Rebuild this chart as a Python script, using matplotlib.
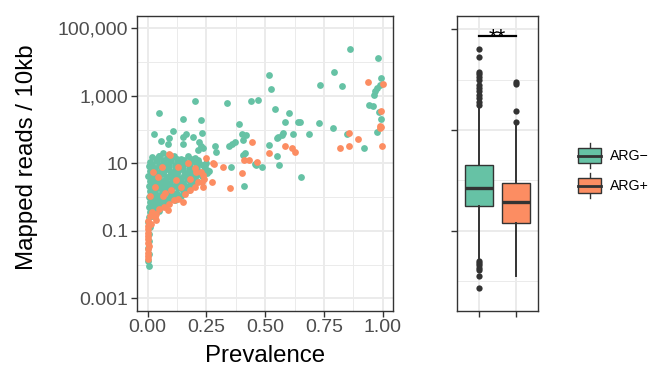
import numpy as np
import matplotlib.pyplot as plt
from matplotlib.patches import Rectangle

plt.rcParams['font.family'] = ['Liberation Sans', 'DejaVu Sans']

GREEN = "#66C2A5"
ORANGE = "#FC8D62"
DARK = "#333333"

# scatter: ARG- genes (prevalence, mapped reads / 10kb)
neg_prev = [0.861, 0.981, 0.993, 0.517, 0.794, 0.525, 0.733, 0.826, 0.988, 0.974,
            0.967, 0.963, 0.943, 0.960, 0.984, 0.991, 0.974, 0.847, 0.922, 0.790,
            0.730, 0.686, 0.648, 0.336, 0.440, 0.468, 0.540, 0.601, 0.584, 0.640,
            0.389, 0.577, 0.570, 0.556, 0.549, 0.618, 0.403, 0.418, 0.407, 0.371,
            0.357, 0.347, 0.517, 0.551, 0.414, 0.407, 0.461, 0.485, 0.557, 0.353,
            0.654, 0.410, 0.288, 0.291, 0.457, 0.230, 0.234, 0.248, 0.244, 0.254,
            0.251, 0.203, 0.049, 0.149, 0.227, 0.106, 0.028, 0.163, 0.149, 0.191,
            0.057, 0.092, 0.085, 0.149, 0.220, 0.227, 0.213, 0.049, 0.064]
neg_reads = [25000, 13500, 3300, 4200, 5000, 1600, 2100, 1900, 2100, 1700,
             1400, 1050, 540, 500, 340, 200, 83, 76, 29, 115,
             155, 72, 166, 630, 680, 740, 400, 320, 170, 162,
             145, 81, 69, 59, 55, 76, 74, 68, 49, 44,
             37, 32, 35, 17, 20, 18, 8.9, 7.9, 8.9, 7.9,
             4.0, 2.2, 33, 22, 9.5, 78, 28, 10, 8.9, 6.3,
             5.0, 680, 320, 200, 190, 93, 74, 74, 62, 62,
             47, 58, 37, 37, 44, 33, 25, 17, 20]

# dense cluster of ARG- genes at low prevalence
neg_dense_prev = [0.02, 0.05, 0.08, 0.11, 0.14, 0.17, 0.20,
                  0.035, 0.065, 0.095, 0.125, 0.155, 0.185, 0.215,
                  0.01, 0.04, 0.07, 0.10, 0.13, 0.16, 0.19, 0.22,
                  0.02, 0.05, 0.085, 0.115, 0.145, 0.175, 0.205, 0.235,
                  0.005, 0.03, 0.06, 0.09, 0.12, 0.15, 0.18, 0.21, 0.24,
                  0.02, 0.055, 0.085, 0.115, 0.145, 0.175, 0.205, 0.245,
                  0.01, 0.04, 0.07, 0.10, 0.13, 0.16, 0.19, 0.22, 0.26,
                  0.015, 0.04, 0.065, 0.095, 0.125, 0.155, 0.185, 0.215,
                  0.003, 0.025, 0.05, 0.08, 0.11, 0.14, 0.17, 0.20, 0.23,
                  0.02, 0.045, 0.075, 0.105, 0.135, 0.165, 0.195,
                  0.01, 0.035, 0.06, 0.09, 0.12, 0.15, 0.18, 0.21,
                  0.02, 0.045, 0.07, 0.095, 0.125, 0.155, 0.185,
                  0.005, 0.03, 0.055, 0.08, 0.11, 0.14, 0.17, 0.195,
                  0.02, 0.045, 0.07, 0.10, 0.13, 0.16,
                  0.01, 0.03, 0.06, 0.09, 0.12, 0.15, 0.175,
                  0.015, 0.04, 0.065, 0.095, 0.125,
                  0.005, 0.025, 0.05, 0.08, 0.11, 0.14,
                  0.02, 0.04, 0.07, 0.10,
                  0.01, 0.03, 0.055, 0.085, 0.115,
                  0.015, 0.04, 0.065,
                  0.005, 0.025, 0.05, 0.075,
                  0.02, 0.04,
                  0.01, 0.03, 0.05,
                  0.005, 0.02,
                  0.003, 0.008, 0.004, 0.006, 0.003, 0.005, 0.003, 0.004]
neg_dense_reads = [15, 17, 14, 16, 13, 16, 14,
                   13, 12.5, 13.5, 13, 12.8, 13.2, 12.6,
                   11, 12, 10, 12, 11, 10, 12, 10.5,
                   9.5, 9.0, 9.6, 9.2, 9.4, 9.1, 9.6, 9.0,
                   8.5, 7.5, 8.2, 7.8, 8.4, 7.4, 8.0, 7.6, 8.3,
                   6.8, 6.4, 6.7, 6.5, 6.9, 6.3, 6.6, 6.8,
                   5.8, 5.3, 6.0, 5.5, 5.9, 5.2, 5.7, 5.4, 5.9,
                   4.8, 4.6, 4.9, 4.5, 4.8, 4.6, 4.7, 4.9,
                   4.1, 3.8, 4.3, 3.9, 4.2, 3.7, 4.1, 3.8, 4.2,
                   3.4, 3.2, 3.3, 3.5, 3.2, 3.4, 3.3,
                   2.9, 2.7, 3.0, 2.6, 2.9, 2.7, 3.0, 2.9,
                   2.4, 2.5, 2.3, 2.4, 2.5, 2.3, 2.5,
                   2.1, 1.9, 2.2, 1.9, 2.1, 2.0, 2.2, 2.3,
                   1.7, 1.8, 1.65, 1.75, 1.8, 1.7,
                   1.5, 1.3, 1.4, 1.5, 1.3, 1.5, 1.6,
                   1.2, 1.15, 1.25, 1.2, 1.25,
                   1.0, 0.95, 1.05, 0.9, 1.0, 1.1,
                   0.85, 0.8, 0.85, 0.9,
                   0.72, 0.68, 0.75, 0.7, 0.8,
                   0.6, 0.62, 0.65,
                   0.5, 0.48, 0.52, 0.55,
                   0.42, 0.44,
                   0.36, 0.34, 0.38,
                   0.25, 0.27,
                   0.18, 0.13, 0.08, 0.05, 0.032, 0.02, 0.013, 0.009]

# scatter: ARG+ genes
pos_prev = [0.936, 1.0, 0.991, 0.99, 0.993, 0.988, 0.855, 0.896, 0.855, 0.818,
            0.997, 0.444, 0.584, 0.613, 0.625, 0.517, 0.41, 0.432, 0.464, 0.319,
            0.403, 0.35, 0.248, 0.282, 0.275, 0.234, 0.23, 0.237, 0.092, 0.279]
pos_reads = [2600, 2200, 350, 130, 120, 110, 81, 54, 33, 28,
             33, 42, 32, 28, 22, 20, 12.6, 12.6, 11, 7.9,
             5.0, 1.9, 14, 9.5, 2.8, 4.5, 2.8, 2.0, 19, 10]

pos_dense_prev = [0.01, 0.02, 0.035, 0.05, 0.07, 0.09, 0.088, 0.11, 0.13, 0.15,
                  0.16, 0.18, 0.20, 0.215, 0.24, 0.225, 0.205,
                  0.074, 0.065, 0.01, 0.03, 0.045, 0.024, 0.12, 0.18, 0.095,
                  0.13, 0.17, 0.20, 0.06, 0.14, 0.10,
                  0.0, 0.002, 0.0, 0.003, 0.0, 0.002, 0.0, 0.004, 0.0, 0.002,
                  0.0, 0.003, 0.03, 0.035, 0.015]
pos_dense_reads = [0.28, 0.35, 0.32, 0.45, 0.5, 0.63, 0.42, 0.8, 0.9, 0.72,
                   1.25, 1.6, 2.0, 2.8, 3.5, 5.6, 5.6,
                   1.3, 1.1, 1.07, 2.0, 4.0, 5.6, 3.2, 3.5, 17.8,
                   7.9, 10, 7.1, 7.9, 2.0, 1.6,
                   0.2, 0.14, 0.11, 0.089, 0.071, 0.056, 0.045, 0.035, 0.028, 0.022,
                   0.018, 0.015, 0.25, 0.21, 0.16]

# boxplot summary (right panel)
groups = ["ARG\u2212", "ARG+"]
box_q1 = [0.055, 0.017]
box_med = [0.19, 0.074]
box_q3 = [0.89, 0.26]
box_lo = [0.0015, 0.00046]
box_hi = [45, 13]
neg_fliers = [2600, 1450, 550, 470, 390, 310, 220, 175, 150, 110, 87, 69, 55,
              0.0013, 0.0011, 0.00093, 0.00079, 0.00066, 0.00044, 0.0002]
pos_fliers = [270, 230, 37, 17]
signif_y = 6500

fig = plt.figure(figsize=(6.51, 3.69), dpi=100)
W, H = 651, 369
ax1 = fig.add_axes([136.7 / W, 1 - 311 / H, 256.6 / W, 295 / H])
ax2 = fig.add_axes([456.7 / W, 1 - 311 / H, 81.6 / W, 295 / H])


def style(ax):
    ax.set_axisbelow(True)
    for s in ax.spines.values():
        s.set_color(DARK)
        s.set_linewidth(1.0)
    ax.tick_params(which='major', length=4, width=1, color=DARK,
                   labelcolor="#4D4D4D", labelsize=14, pad=2)
    ax.tick_params(which='minor', length=0)
    ax.grid(which='major', color="#EBEBEB", linewidth=1.4)
    ax.grid(which='minor', color="#EBEBEB", linewidth=0.7)


# left: scatter
ax1.set_yscale('log')
ax1.scatter(neg_prev, neg_reads, s=24, color=GREEN, linewidths=0, zorder=2)
ax1.scatter(neg_dense_prev, neg_dense_reads, s=24, color=GREEN, linewidths=0, zorder=2)
ax1.scatter(pos_dense_prev, pos_dense_reads, s=24, color=ORANGE, linewidths=0, zorder=3)
ax1.scatter(pos_prev, pos_reads, s=24, color=ORANGE, linewidths=0, zorder=3)
ax1.set_xlim(-0.047, 1.045)
ax1.set_ylim(10 ** -3.376, 10 ** 5.365)
ax1.set_xticks([0, 0.25, 0.5, 0.75, 1.0])
ax1.set_xticklabels(["0.00", "0.25", "0.50", "0.75", "1.00"])
ax1.set_xticks([0.125, 0.375, 0.625, 0.875], minor=True)
ax1.set_yticks([1e-3, 1e-1, 1e1, 1e3, 1e5])
ax1.set_yticklabels(["0.001", "0.1", "10", "1,000", "100,000"])
ax1.set_yticks([1e-2, 1e0, 1e2, 1e4], minor=True)
ax1.yaxis.set_minor_formatter(plt.NullFormatter())
style(ax1)

# right: boxplot
stats = []
fliers = [neg_fliers, pos_fliers]
for i in range(2):
    stats.append(dict(med=box_med[i], q1=box_q1[i], q3=box_q3[i],
                      whislo=box_lo[i], whishi=box_hi[i], fliers=fliers[i]))
ax2.set_yscale('log')
bp = ax2.bxp(stats, positions=[1, 2], widths=0.75, patch_artist=True, showcaps=False,
             boxprops=dict(edgecolor=DARK, linewidth=1.0),
             medianprops=dict(color=DARK, linewidth=2.4, solid_capstyle='butt'),
             whiskerprops=dict(color=DARK, linewidth=1.4),
             flierprops=dict(marker='o', markersize=4.5, markerfacecolor=DARK,
                             markeredgecolor='none'))
for patch, c in zip(bp['boxes'], [GREEN, ORANGE]):
    patch.set_facecolor(c)
ax2.plot([1, 2], [signif_y, signif_y], color='black', linewidth=1.6)
ax2.text(1.5, 3900, "**", ha='center', va='baseline', fontsize=16)
ax2.set_xlim(0.4, 2.6)
ax2.set_ylim(10 ** -4.39, 10 ** 4.396)
ax2.set_xticks([1, 2])
ax2.set_xticklabels([])
ax2.set_yticks([1e-2, 1e1, 1e4])
ax2.set_yticklabels([])
ax2.set_yticks([10 ** -3.5, 10 ** -0.5, 10 ** 2.5], minor=True)
ax2.yaxis.set_minor_formatter(plt.NullFormatter())
style(ax2)

# axis titles
fig.text(265 / W, 1 - 356 / H, "Prevalence", ha='center', va='center', fontsize=17.3)
fig.text(27 / W, 1 - 157.5 / H, "Mapped reads / 10kb", ha='center', va='center',
         rotation=90, fontsize=17.3)

# legend
lax = fig.add_axes([0, 0, 1, 1])
lax.set_xlim(0, W)
lax.set_ylim(H, 0)
lax.axis('off')
for c, yc, lab in zip([GREEN, ORANGE], [155.5, 185.5], groups):
    lax.plot([589.5, 589.5], [yc - 12.5, yc + 12.5], color=DARK, linewidth=1.0)
    lax.add_patch(Rectangle((578, yc - 7.5), 23, 15, facecolor=c, edgecolor=DARK,
                            linewidth=1.0, zorder=3))
    lax.plot([578, 601], [yc, yc], color=DARK, linewidth=2.0, zorder=4)
    lax.text(610, yc, lab, ha='left', va='center', fontsize=10.2)

plt.savefig("out.png", dpi=100)
